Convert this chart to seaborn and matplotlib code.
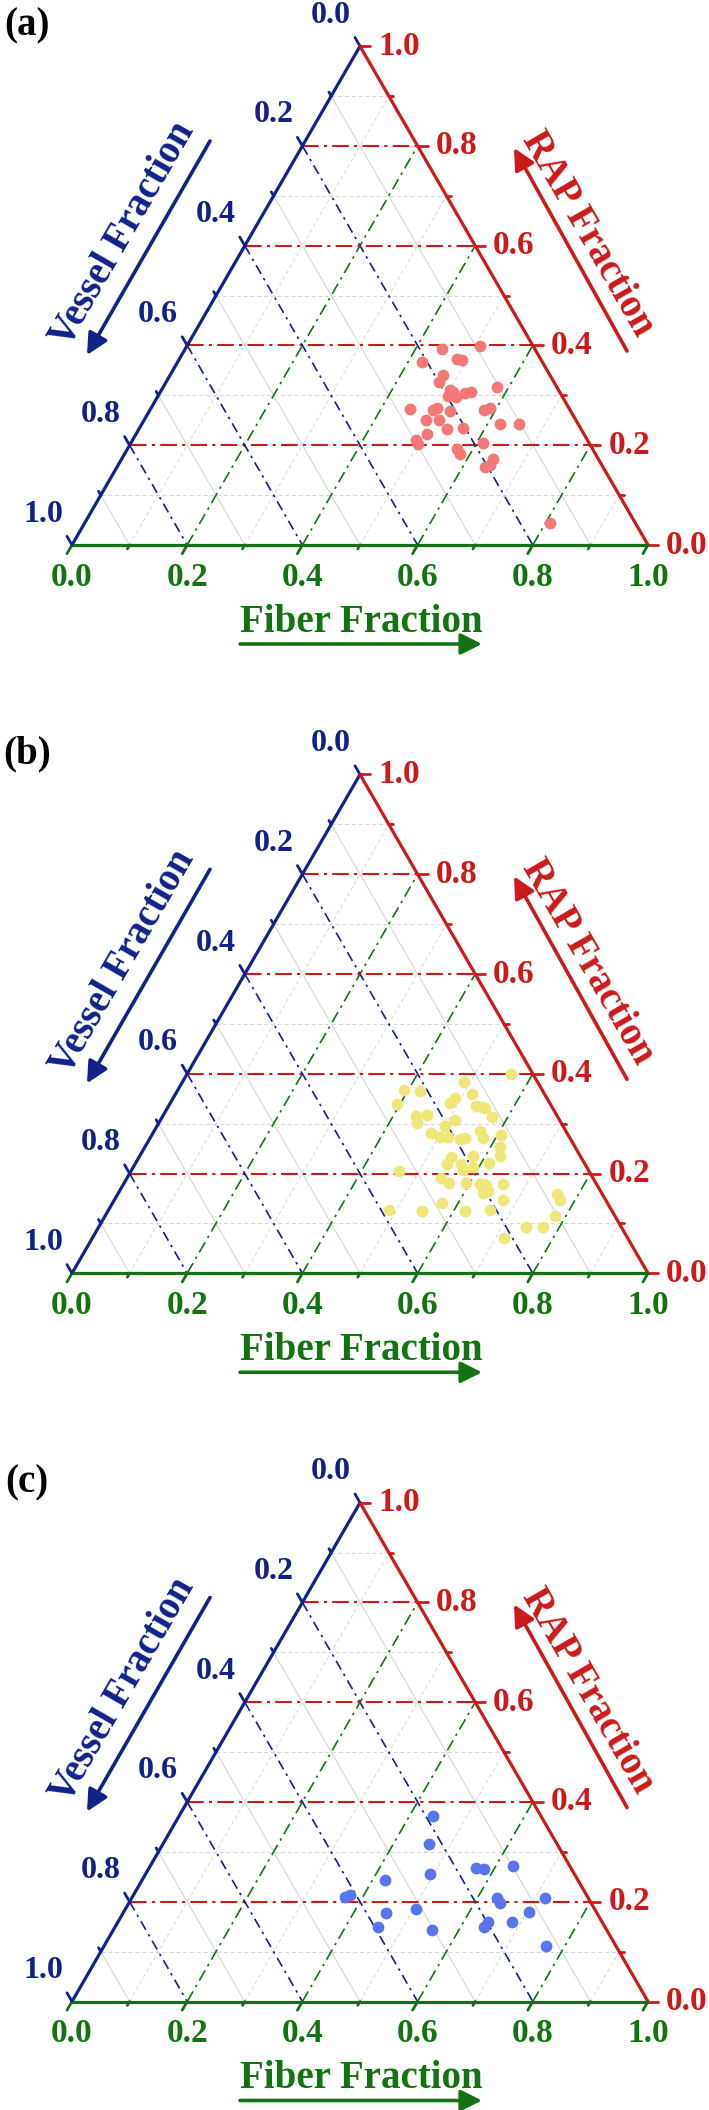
import numpy as np
import pandas as pd
import matplotlib
matplotlib.use("Agg")
import matplotlib.pyplot as plt
import seaborn as sns

# fiber / RAP fractions (vessel = 1 - fiber - rap)
fiber_a = [0.447, 0.509, 0.424, 0.483, 0.492, 0.473, 0.474, 0.579, 0.501, 0.508,
           0.504, 0.518, 0.530, 0.539, 0.450, 0.492, 0.497, 0.521, 0.580, 0.589,
           0.489, 0.511, 0.621, 0.655, 0.505, 0.535, 0.562, 0.492, 0.499, 0.612,
           0.573, 0.582, 0.645, 0.639, 0.646, 0.808]
rap_a = [0.392, 0.399, 0.367, 0.372, 0.370, 0.341, 0.327, 0.317, 0.311, 0.307,
         0.299, 0.297, 0.304, 0.307, 0.272, 0.271, 0.274, 0.269, 0.271, 0.274,
         0.251, 0.251, 0.243, 0.243, 0.223, 0.232, 0.234, 0.211, 0.203, 0.204,
         0.192, 0.182, 0.172, 0.157, 0.160, 0.044]

fiber_b = [0.562, 0.488, 0.393, 0.421, 0.514, 0.490, 0.486, 0.394, 0.534, 0.545,
           0.552, 0.573, 0.440, 0.457, 0.449, 0.512, 0.500, 0.565, 0.607, 0.482,
           0.502, 0.517, 0.539, 0.547, 0.578, 0.616, 0.626, 0.578, 0.541, 0.542,
           0.565, 0.576, 0.590, 0.613, 0.465, 0.545, 0.564, 0.593, 0.618, 0.631,
           0.659, 0.634, 0.641, 0.762, 0.773, 0.675, 0.573, 0.487, 0.546, 0.621,
           0.662, 0.781, 0.742, 0.772, 0.715]
rap_b = [0.400, 0.384, 0.368, 0.366, 0.360, 0.351, 0.342, 0.339, 0.336, 0.333,
         0.331, 0.314, 0.316, 0.317, 0.301, 0.307, 0.295, 0.286, 0.277, 0.282,
         0.274, 0.273, 0.269, 0.271, 0.271, 0.254, 0.235, 0.235, 0.233, 0.219,
         0.219, 0.207, 0.214, 0.221, 0.206, 0.191, 0.182, 0.182, 0.180, 0.177,
         0.180, 0.160, 0.164, 0.159, 0.147, 0.146, 0.140, 0.127, 0.125, 0.124,
         0.126, 0.115, 0.092, 0.092, 0.070]

fiber_c = [0.441, 0.461, 0.568, 0.583, 0.629, 0.494, 0.422, 0.370, 0.376, 0.634,
           0.645, 0.717, 0.456, 0.505, 0.704, 0.456, 0.553, 0.643, 0.640, 0.684,
           0.767]
rap_c = [0.372, 0.316, 0.267, 0.265, 0.272, 0.256, 0.244, 0.209, 0.214, 0.207,
         0.197, 0.208, 0.178, 0.185, 0.179, 0.149, 0.143, 0.160, 0.149, 0.159,
         0.111]

panel_labels = ["(a)", "(b)", "(c)"]
point_colors = ["#f47878", "#efe67a", "#5c73ee"]
tick_vals = [0.0, 0.2, 0.4, 0.6, 0.8, 1.0]
tick_text = ["0.0", "0.2", "0.4", "0.6", "0.8", "1.0"]

BLUE = "#12208a"
RED = "#cc1a1a"
GREEN = "#137313"

sns.set_style("white")
plt.rcParams["font.family"] = ["Liberation Serif", "DejaVu Serif"]
plt.rcParams["font.weight"] = "bold"

H3 = np.sqrt(3) / 2
W, HPX = 709, 2110
SIDE = 576.0
X0 = 72
bases = [545, 1273.3, 2001.5]
panels = [(fiber_a, rap_a), (fiber_b, rap_b), (fiber_c, rap_c)]

fig = plt.figure(figsize=(7.09, 21.10), dpi=100)


def px(n):
    return n / SIDE


for k, base in enumerate(bases):
    top, bot = base - 545, base + 125
    ax = fig.add_axes([0, 1 - bot / HPX, 1, (bot - top) / HPX])
    ax.set_xlim(-X0 / SIDE, (W - X0) / SIDE)
    ax.set_ylim(-125 / SIDE, 545 / SIDE)
    ax.axis("off")

    # light minor grid
    for i in [1, 3, 5, 7, 9]:
        v = i / 10
        ax.plot([v / 2, 1 - v / 2], [v * H3, v * H3], color="#d4d4d4", lw=0.7, ls=(0, (4, 3)), zorder=1)
        ax.plot([v, v + (1 - v) / 2], [0, (1 - v) * H3], color="#d4d4d4", lw=0.7, ls=(0, (4, 3)), zorder=1)
        ax.plot([(1 - v) / 2, 1 - v], [(1 - v) * H3, 0], color="#cfcfcf", lw=0.7, zorder=1)

    # major grid
    for v in [0.2, 0.4, 0.6, 0.8]:
        ax.plot([v / 2, 1 - v / 2], [v * H3, v * H3], color=RED, lw=1.5, ls=(0, (8, 2.5, 1.5, 2.5)), zorder=2)
        ax.plot([v, v + (1 - v) / 2], [0, (1 - v) * H3], color=GREEN, lw=1.2, ls=(0, (7, 3, 1.5, 3)), zorder=2)
        ax.plot([(1 - v) / 2, 1 - v], [(1 - v) * H3, 0], color=BLUE, lw=1.2, ls=(0, (6, 3, 1.5, 3)), zorder=2)

    # points
    f = np.array(panels[k][0])
    r = np.array(panels[k][1])
    df = pd.DataFrame({"fiber": f, "rap": r, "vessel": 1 - f - r})
    df["x"] = df["fiber"] + df["rap"] / 2
    df["y"] = df["rap"] * H3
    sns.scatterplot(data=df, x="x", y="y", ax=ax, color=point_colors[k], s=72,
                    linewidth=0, legend=False, zorder=3)
    ax.set_xlabel("")
    ax.set_ylabel("")

    # triangle edges
    ax.plot([0, 0.5], [0, H3], color=BLUE, lw=2.3, zorder=5, solid_capstyle="round")
    ax.plot([0.5, 1], [H3, 0], color=RED, lw=2.3, zorder=5, solid_capstyle="round")
    ax.plot([0, 1], [0, 0], color=GREEN, lw=2.3, zorder=5, solid_capstyle="round")

    # ticks
    for i in range(11):
        t = i / 10
        ln = px(10) if i % 2 == 0 else px(4.5)
        bx, by = t, 0
        ax.plot([bx, bx - 0.5 * ln], [by, by - H3 * ln], color=GREEN, lw=2.0, zorder=5)
        rx, ry = 1 - t / 2, t * H3
        ax.plot([rx, rx + ln], [ry, ry], color=RED, lw=2.0, zorder=5)
        lx, ly = (1 - t) / 2, (1 - t) * H3
        ax.plot([lx, lx - 0.5 * ln], [ly, ly + H3 * ln], color=BLUE, lw=2.0, zorder=5)

    # tick labels
    for t, s in zip(tick_vals, tick_text):
        ax.text(t, -px(32), s, color=GREEN, fontsize=24, fontweight="bold", ha="center", va="center")
        ax.text(1 - t / 2 + px(18), t * H3, s, color=RED, fontsize=24, fontweight="bold", ha="left", va="center")
        ax.text((1 - t) / 2 - px(29), (1 - t) * H3 + px(31), s, color=BLUE, fontsize=23,
                fontweight="bold", ha="center", va="center")

    # axis titles and arrows
    ax.text(px(51), px(311), "Vessel Fraction", color=BLUE, fontsize=28, fontweight="bold",
            rotation=60, ha="center", va="center", rotation_mode="anchor")
    ax.annotate("", xy=(px(15), px(190)), xytext=(px(138), px(404)),
                arrowprops=dict(arrowstyle="-|>", color=BLUE, lw=2.6, mutation_scale=32, shrinkA=0, shrinkB=0))
    ax.text(px(516), px(311), "RAP Fraction", color=RED, fontsize=28, fontweight="bold",
            rotation=-60, ha="center", va="center", rotation_mode="anchor")
    ax.annotate("", xy=(px(442), px(397)), xytext=(px(555), px(194)),
                arrowprops=dict(arrowstyle="-|>", color=RED, lw=2.6, mutation_scale=32, shrinkA=0, shrinkB=0))
    ax.text(px(289), -px(77), "Fiber Fraction", color=GREEN, fontsize=28, fontweight="bold",
            ha="center", va="center")
    ax.annotate("", xy=(px(410), -px(99)), xytext=(px(168), -px(99)),
                arrowprops=dict(arrowstyle="-|>", color=GREEN, lw=2.6, mutation_scale=32, shrinkA=0, shrinkB=0))

    ax.text(-px(45), px(519), panel_labels[k], color="black", fontsize=28, fontweight="bold",
            ha="center", va="center")

fig.savefig("out.png", dpi=100)
